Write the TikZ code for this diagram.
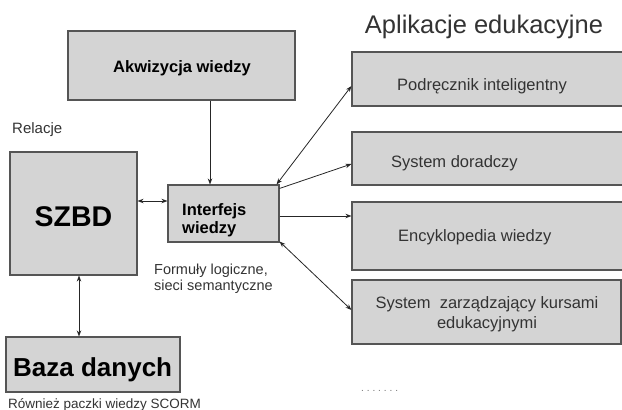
\documentclass[tikz,border=0pt]{standalone}
\usepackage{fontspec}
\setmainfont{Liberation Sans}
\usetikzlibrary{arrows.meta}
\definecolor{boxfill}{HTML}{D4D4D4}
\definecolor{boxline}{HTML}{555555}
\definecolor{txt}{HTML}{333333}
\tikzset{
  box/.style={draw=boxline, line width=1.1pt, fill=boxfill, inner sep=0pt, rectangle},
  conn/.style={draw=black!85, line width=0.8pt},
  tip/.style={-{Stealth[length=6pt,width=4.5pt]}},
  tips/.style={{Stealth[length=6pt,width=4.5pt]}-{Stealth[length=6pt,width=4.5pt]}},
  lbl/.style={text=txt, inner sep=0pt},
}
\begin{document}
\begin{tikzpicture}[x=1pt,y=-1pt]
\useasboundingbox (0,0) rectangle (622,410);
\clip (0,0) rectangle (622,410);
% boxes
\node[box, minimum width=227pt, minimum height=69pt] (akw) at (181.5,65.5) {};
\node[box, minimum width=127pt, minimum height=123pt] (szbd) at (73.5,213.5) {};
\node[box, minimum width=111pt, minimum height=57pt] (int) at (223.5,213.5) {};
\node[box, minimum width=174pt, minimum height=55pt] (baza) at (93,364.5) {};
\node[box, minimum width=278pt, minimum height=54pt] (p1) at (491,79) {};
\node[box, minimum width=278pt, minimum height=53pt] (p2) at (491,158.5) {};
\node[box, minimum width=278pt, minimum height=68pt] (p3) at (491,236) {};
\node[box, minimum width=269pt, minimum height=64pt] (p4) at (486.5,312) {};
% texts
\node[inner sep=0pt, anchor=base, font=\bfseries\fontsize{16.5}{18}\selectfont] (takw) at (182,72) {Akwizycja wiedzy};
\node[inner sep=0pt, anchor=base, font=\bfseries\fontsize{28.5}{30}\selectfont] (tszbd) at (73.5,226) {SZBD};
\node[inner sep=0pt, anchor=base west, font=\bfseries\fontsize{16.5}{18}\selectfont] (tint1) at (182,215.5) {Interfejs};
\node[inner sep=0pt, anchor=base west, font=\bfseries\fontsize{16.5}{18}\selectfont] (tint2) at (182,233.5) {wiedzy};
\node[inner sep=0pt, anchor=base west, font=\bfseries\fontsize{26}{28}\selectfont] (tbaza) at (13,376) {Baza danych};
\node[lbl, anchor=base, font=\fontsize{25.5}{28}\selectfont] (title) at (484,33) {Aplikacje edukacyjne};
\node[lbl, anchor=base west, font=\fontsize{15}{17}\selectfont] (rel) at (12,133) {Relacje};
\node[lbl, anchor=base west, font=\fontsize{14.5}{17}\selectfont] (form1) at (154,274) {Formuły logiczne,};
\node[lbl, anchor=base west, font=\fontsize{14.5}{17}\selectfont] (form2) at (154,290) {sieci semantyczne};
\node[lbl, anchor=base west, font=\fontsize{13.5}{16}\selectfont] (scorm) at (8,408) {Również paczki wiedzy SCORM};
\node[lbl, anchor=base west, font=\fontsize{16.5}{19}\selectfont] (t1) at (397,90.5) {Podręcznik inteligentny};
\node[lbl, anchor=base west, font=\fontsize{16.5}{19}\selectfont] (t2) at (391,167) {System doradczy};
\node[lbl, anchor=base west, font=\fontsize{16.5}{19}\selectfont] (t3) at (398,241) {Encyklopedia wiedzy};
\node[lbl, anchor=base, font=\fontsize{16.5}{19}\selectfont] (t4a) at (487,308) {System\ \ zarządzający kursami};
\node[lbl, anchor=base, font=\fontsize{16.5}{19}\selectfont] (t4b) at (487,328) {edukacyjnymi};
\node[lbl, anchor=base west, text=black!55, font=\fontsize{10}{11}\selectfont] (dots) at (361,391) {.\kern2.9pt.\kern2.9pt.\kern2.9pt.\kern2.9pt.\kern2.9pt.\kern2.9pt.};
% connectors
\draw[conn, tip] ([xshift=28.5pt]akw.south) -- ([xshift=-13.5pt]int.north);
\draw[conn, tips] ([yshift=12.5pt]szbd.east) -- ([yshift=12.5pt]int.west);
\draw[conn, tips] ([xshift=5.5pt]szbd.south) -- ([xshift=-14pt]baza.north);
\draw[conn, tips] ([xshift=-3pt]int.north east) -- ([yshift=-7pt]p1.west);
\draw[conn, tip] ([yshift=-4pt]int.north east) -- ([yshift=-5.5pt]p2.west);
\draw[conn, tip] ([yshift=-2.5pt]int.east) -- ([yshift=20pt]p3.west);
\draw[conn, tips] ([yshift=1pt]int.south east) -- ([yshift=2pt]p4.west);
\end{tikzpicture}
\end{document}
